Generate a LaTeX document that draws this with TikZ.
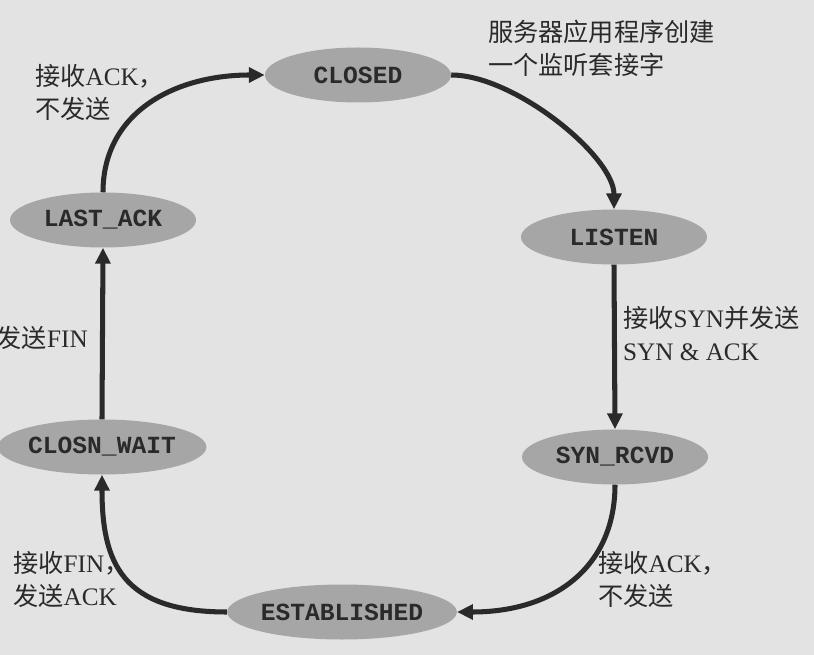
\documentclass[tikz,border=0pt]{standalone}
\usepackage{fontspec}
\setmainfont{Liberation Serif}
\setmonofont{Liberation Mono}
\newfontfamily\cjkfont{Noto Sans CJK SC}
\usetikzlibrary{shapes.geometric,arrows.meta}
\newcommand\zh[1]{{\cjkfont #1}}
\definecolor{paper}{RGB}{227,227,227}
\definecolor{statefill}{RGB}{166,166,166}
\definecolor{ink}{RGB}{42,42,42}

\tikzset{
  state/.style={ellipse, fill=statefill, minimum width=5.58cm, minimum height=1.65cm,
    inner sep=0pt, text=ink, font=\fontsize{21}{21}\selectfont\ttfamily\bfseries},
  trans/.style={draw=ink, line width=4.3pt, -{Triangle[length=13.5pt,width=12.5pt]}},
  note/.style={align=left, inner sep=0pt, text=ink,
    font=\fontsize{21.5}{28}\selectfont}
}

\begin{document}
\begin{tikzpicture}[x=0.03cm, y=-0.03cm]
  \fill[paper] (0,0) rectangle (814,655);
  \useasboundingbox (0,0) rectangle (814,655);

  % states
  \node[state] (closed)  at (358,75)  {CLOSED};
  \node[state] (listen)  at (614,237) {LISTEN};
  \node[state] (synrcvd) at (615,457) {SYN\_RCVD};
  \node[state] (estab)   at (342,612) {ESTABLISHED};
  \node[state] (closnw)  at (102,447) {CLOSN\_WAIT};
  \node[state] (lastack) at (103,220) {LAST\_ACK};

  % transitions
  \draw[trans] (lastack.north) .. controls +(0,-80) and +(-90,0) .. (closed.west);
  \draw[trans] (closed.east) .. controls +(63,0) and +(0,-53) .. (listen.north);
  \draw[trans] (listen.south) -- (synrcvd.north);
  \draw[trans] (synrcvd.south) .. controls +(0,80) and +(100,0) .. (estab.east);
  \draw[trans] (estab.west) .. controls +(-105,0) and +(0,88) .. (closnw.south);
  \draw[trans] (closnw.north) -- (lastack.south);

  % transition labels
  \node[note, anchor=north west] (n1) at (35,64)  {\zh{接收}ACK\zh{，}\\\zh{不发送}};
  \node[note, anchor=north west] (n2) at (488,20) {\zh{服务器应用程序创建}\\\zh{一个监听套接字}};
  \node[note, anchor=north west] (n3) at (623,306) {\zh{接收}SYN\zh{并发送}\\SYN \& ACK};
  \node[note, anchor=north east] (n4) at (88,326) {\zh{发送}FIN};
  \node[note, anchor=north west] (n5) at (13,551) {\zh{接收}FIN\zh{，}\\\zh{发送}ACK};
  \node[note, anchor=north west] (n6) at (598,551) {\zh{接收}ACK\zh{，}\\\zh{不发送}};
\end{tikzpicture}
\end{document}
